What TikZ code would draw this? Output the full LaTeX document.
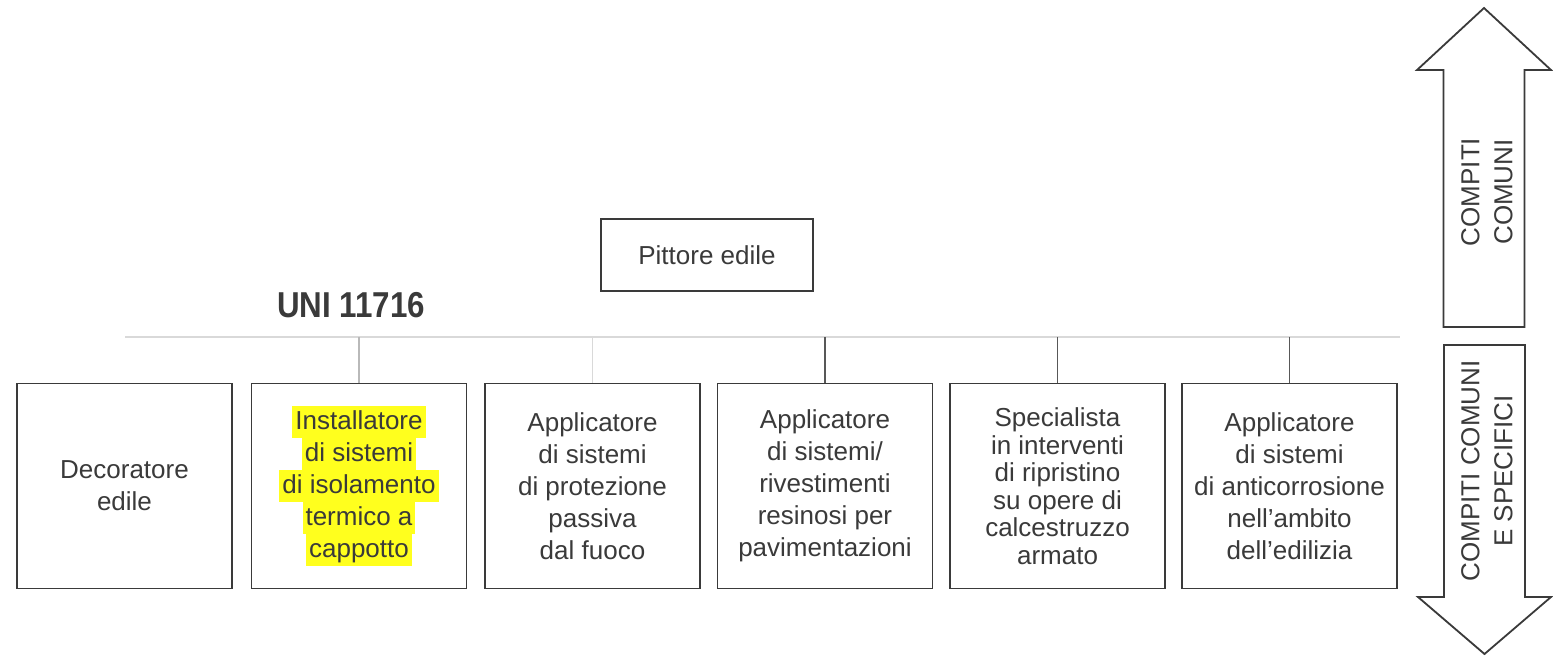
\documentclass[tikz,border=0pt]{standalone}
\usepackage{fontspec}
\setmainfont{Liberation Sans}
\usepackage{graphicx}
\definecolor{ink}{HTML}{3A3A3A}
\definecolor{hl}{HTML}{FFFF1E}
\newcommand\hlt[1]{{\setlength{\fboxsep}{0pt}\colorbox{hl}{\hspace{3pt}\rule[-9pt]{0pt}{32pt}#1\hspace{3pt}}}}
\begin{document}
\begin{tikzpicture}[x=1pt,y=-1pt,
  box/.style={draw=ink, line width=1.8pt, minimum width=215pt, minimum height=205pt,
    align=center, text=ink, inner sep=0pt, font=\fontsize{26}{32}\selectfont},
  conn/.style={draw=ink!85, line width=1.3pt},
  faint/.style={draw=gray!30, line width=1.2pt},
  bigarrow/.style={draw=ink, line width=1.8pt, fill=white, line join=miter},
  vlabel/.style={rotate=90, align=center, text=ink, inner sep=0pt, font=\fontsize{26}{33}\selectfont}]
\useasboundingbox[fill=white] (0,0) rectangle (1553,657);

% top node
\node[box, minimum width=212pt, minimum height=72pt] (pit) at (707,255) {Pittore edile};

% label
\node[anchor=base, text=ink, inner sep=0pt, font=\fontsize{36}{40}\selectfont\bfseries] (uni) at (351,317) {\scalebox{0.87}[1]{UNI 11716}};

% boxes
\node[box] (b1) at (124.5,486) {Decoratore\\edile};
\node[box] (b2) at (359,486) {\hlt{Installatore}\\\hlt{di sistemi}\\\hlt{di isolamento}\\\hlt{termico a}\\\hlt{cappotto}};
\node[box] (b3) at (592.5,486) {Applicatore\\di sistemi\\di protezione\\passiva\\dal fuoco};
\node[box] (b4) at (825,486) {Applicatore\\di sistemi/\\rivestimenti\\resinosi per\\pavimentazioni};
\node[box, font=\fontsize{26}{27.5}\selectfont] (b5) at (1057.5,486) {Specialista\\in interventi\\di ripristino\\su opere di\\calcestruzzo\\armato};
\node[box] (b6) at (1289.5,486) {Applicatore\\di sistemi\\di anticorrosione\\nell'ambito\\dell'edilizia};

% bus line
\coordinate (busL) at (125,337);
\coordinate (busR) at (1400,337);
\draw[faint] (busL) -- (busR);
\draw[conn, draw=gray!55] (b2.north) -- (b2.north |- busL);
\draw[faint] (b3.north) -- (b3.north |- busL);
\draw[conn] (b4.north) -- (b4.north |- busL);
\draw[conn] (b5.north) -- (b5.north |- busL);
\draw[conn] (b6.north) -- (b6.north |- busL);

% big arrows
\draw[bigarrow] (1484,8) -- (1551,70) -- (1524.5,70) -- (1524.5,327) -- (1443.5,327)
  -- (1443.5,70) -- (1417,70) -- cycle;
\draw[bigarrow] (1444,345) -- (1525,345) -- (1525,597) -- (1551,597) -- (1484.5,654)
  -- (1418,597) -- (1444,597) -- cycle;
\node[vlabel] (up) at (1487,192) {COMPITI\\COMUNI};
\node[vlabel] (down) at (1487,471) {COMPITI COMUNI\\E SPECIFICI};
\end{tikzpicture}
\end{document}
